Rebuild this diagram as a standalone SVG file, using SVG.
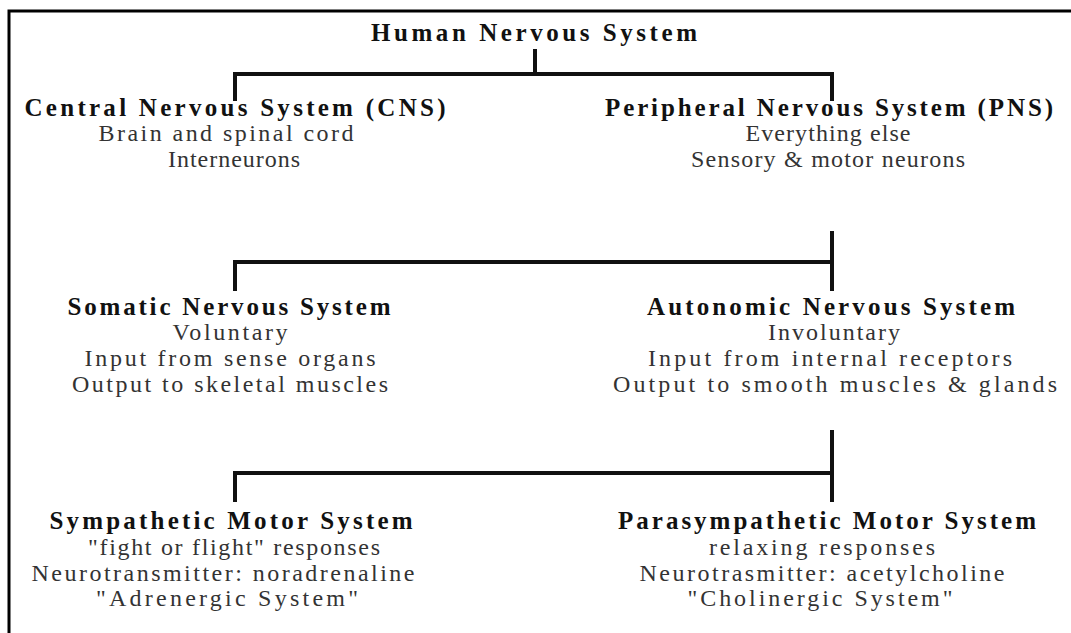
<svg xmlns="http://www.w3.org/2000/svg" width="1071" height="633" viewBox="0 0 1071 633">
<style>
text{font-family:"Liberation Serif","Times New Roman",serif;text-anchor:middle}
.h{font-weight:bold;fill:#111;font-size:25px}
.t{fill:#333;font-size:24px}
.c{stroke:#111;stroke-width:4;fill:none}
</style>
<rect width="1071" height="633" fill="#fff"/>
<path d="M9,633 V11 H1071" stroke="#000" stroke-width="3" fill="none"/>
<g id="connectors" class="c">
<path class="c" d="M535,49 V74 M235,101 V74 H832 V101"/>
<path class="c" d="M832,231 V291 M235,291 V262 H832"/>
<path class="c" d="M832,430 V502 M235,502 V473 H832"/>
</g>
<g id="human"><text class="h" x="534" y="41" textLength="326" lengthAdjust="spacing">Human Nervous System</text></g>
<g id="cns">
<text class="h" x="235" y="116" textLength="421" lengthAdjust="spacing">Central Nervous System (CNS)</text>
<text class="t" x="226" y="141" textLength="255" lengthAdjust="spacing">Brain and spinal cord</text>
<text class="t" x="234" y="167" textLength="132" lengthAdjust="spacing">Interneurons</text>
</g>
<g id="pns">
<text class="h" x="829" y="116" textLength="448" lengthAdjust="spacing">Peripheral Nervous System (PNS)</text>
<text class="t" x="828" y="141" textLength="165" lengthAdjust="spacing">Everything else</text>
<text class="t" x="828" y="167" textLength="274" lengthAdjust="spacing">Sensory &amp; motor neurons</text>
</g>
<g id="somatic">
<text class="h" x="229" y="315" textLength="323" lengthAdjust="spacing">Somatic Nervous System</text>
<text class="t" x="230" y="340" textLength="115" lengthAdjust="spacing">Voluntary</text>
<text class="t" x="230" y="366" textLength="291" lengthAdjust="spacing">Input from sense organs</text>
<text class="t" x="230" y="392" textLength="316" lengthAdjust="spacing">Output to skeletal muscles</text>
</g>
<g id="autonomic">
<text class="h" x="831" y="315" textLength="368" lengthAdjust="spacing">Autonomic Nervous System</text>
<text class="t" x="834" y="340" textLength="132" lengthAdjust="spacing">Involuntary</text>
<text class="t" x="830" y="366" textLength="364" lengthAdjust="spacing">Input from internal receptors</text>
<text class="t" x="835" y="392" textLength="444" lengthAdjust="spacing">Output to smooth muscles &amp; glands</text>
</g>
<g id="sympathetic">
<text class="h" x="231" y="529" textLength="363" lengthAdjust="spacing">Sympathetic Motor System</text>
<text class="t" x="234" y="555" textLength="292" lengthAdjust="spacing">"fight or flight" responses</text>
<text class="t" x="223" y="581" textLength="383" lengthAdjust="spacing">Neurotransmitter: noradrenaline</text>
<text class="t" x="227" y="606" textLength="262" lengthAdjust="spacing">"Adrenergic System"</text>
</g>
<g id="parasympathetic">
<text class="h" x="827" y="529" textLength="418" lengthAdjust="spacing">Parasympathetic Motor System</text>
<text class="t" x="822" y="555" textLength="226" lengthAdjust="spacing">relaxing responses</text>
<text class="t" x="822" y="581" textLength="365" lengthAdjust="spacing">Neurotrasmitter: acetylcholine</text>
<text class="t" x="820" y="606" textLength="265" lengthAdjust="spacing">"Cholinergic System"</text>
</g>
</svg>
